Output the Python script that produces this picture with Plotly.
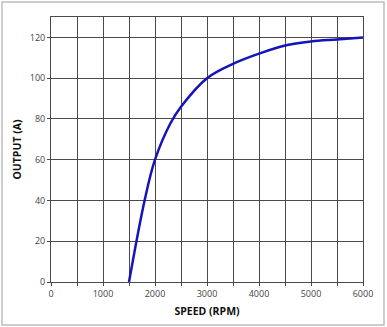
import plotly.graph_objects as go

speed = [1500, 1800, 2000, 2300, 2500, 3000, 3500, 4000, 4500, 5000, 5500, 6000]
output = [0, 40, 60, 78, 86, 100, 107, 112, 116, 118, 119, 120]
x_ticks = [0, 1000, 2000, 3000, 4000, 5000, 6000]
y_ticks = [0, 20, 40, 60, 80, 100, 120]

fig = go.Figure()
fig.add_trace(go.Scatter(x=speed, y=output, mode="lines",
                         line=dict(color="#1414b8", width=2.5, shape="spline", smoothing=1),
                         hoverinfo="skip"))

W, H = 387, 327
L, R, T, B = 51, 24, 17, 45
pw, ph = W - L - R, H - T - B

fig.update_layout(
    width=W, height=H,
    margin=dict(l=L, r=R, t=T, b=B),
    paper_bgcolor="white", plot_bgcolor="white",
    showlegend=False,
    font=dict(family="Open Sans, Liberation Sans, sans-serif", color="#333"),
    xaxis=dict(range=[0, 6000], tickvals=list(range(0, 6001, 500)),
               ticktext=[str(v) if v in x_ticks else "" for v in range(0, 6001, 500)],
               showgrid=True, gridcolor="#4a4a4a", gridwidth=1,
               ticks="outside", ticklen=3, tickcolor="#4a4a4a",
               showline=True, linecolor="#4a4a4a", mirror=True, zeroline=False,
               tickfont=dict(size=9, color="#444"),
               title=dict(text="<b>SPEED (RPM)</b>", font=dict(size=10.5, color="#111"), standoff=8)),
    yaxis=dict(range=[0, 130], tickvals=y_ticks,
               showgrid=True, gridcolor="#4a4a4a", gridwidth=1,
               ticks="outside", ticklen=3, tickcolor="#4a4a4a",
               showline=True, linecolor="#4a4a4a", mirror=True, zeroline=False,
               tickfont=dict(size=9, color="#444"),
               title=dict(text="<b>OUTPUT (A)</b>", font=dict(size=10.5, color="#111"), standoff=6)),
)

# outer frame
x0 = (2 - L) / pw
x1 = (384 - L) / pw
y0 = (H - B - 325) / ph
y1 = (H - B - 2) / ph
fig.add_shape(type="rect", xref="paper", yref="paper", x0=x0, x1=x1, y0=y0, y1=y1,
              line=dict(color="#bdbdbd", width=1.5), layer="below")

fig.write_html("out.html")
